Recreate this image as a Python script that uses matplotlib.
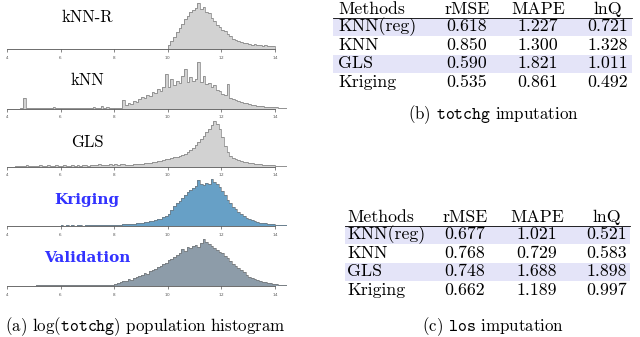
import matplotlib
matplotlib.use("Agg")
import matplotlib.pyplot as plt
import numpy as np
from matplotlib.patches import Rectangle

plt.rcParams['mathtext.fontset'] = 'cm'
plt.rcParams['axes.formatter.use_mathtext'] = True

# histogram bar heights, bins of width 0.1 starting at the given value
bin_w = 0.1
knnr_start = 10.0
knnr = [4, 8, 12, 17, 21, 25, 30, 33, 37, 39, 41, 46, 40, 42, 37, 36, 31, 28, 24, 22,
        19, 18, 15, 13, 10, 9, 8, 7, 6, 6, 5, 4, 5, 4, 4, 3, 4, 3, 3, 3]

knn_start = 4.5
knn = [0.5, 11, 0.5, 0.5, 0.5, 0.5, 0.5, 0.5, 0.5, 0.5, 0.5, 0.5, 2,
       0.5, 0.5, 0.5, 0.5, 0.5, 0.5, 0.5, 0.5, 0.5, 0.5, 0.5, 0.5, 0.5, 0.5,
       2, 0.5, 1, 3, 1, 1.5, 1, 1, 1, 0.5, 1, 9, 4, 6, 5, 8, 7, 10, 12, 11, 14,
       13, 17, 16, 20, 18, 22, 35, 22, 30, 24, 28, 26, 33, 40, 27, 32, 28, 30, 47,
       27, 33, 25, 26, 22, 24, 19, 18, 15, 14, 25, 11, 10, 9, 8, 7, 6, 6, 5, 4, 4,
       3, 3, 3, 2, 2, 2, 2, 1.5, 1, 1, 1, 0.5]

gls_start = 4.3
gls = [0.8, 1, 0.8, 1, 1.2, 0.8, 1, 0.9, 1, 1.1, 0.8, 1, 1.2, 0.9, 1, 1.1, 0.9, 1, 1.2,
       1, 0.9, 1.1, 1, 1.2, 1, 1.1, 1.3, 1, 1.2, 2, 1.5, 2.2, 1.6, 2, 1.8, 2.3, 2, 2.5,
       1.8, 2.6, 2.2, 1.5, 2, 2, 2.5, 2.5, 3, 3, 3.5, 3.2, 4, 4.5, 5, 5.5, 6, 6.5, 7.5,
       8, 8.5, 9.5, 10, 11, 12, 13, 15, 17, 19, 22, 25, 28, 31, 35, 38, 42, 46, 43, 38,
       30, 21, 15, 11, 9, 8, 7, 6, 5, 5, 4, 3.5, 3, 2.5, 2.5, 2, 2, 1.5, 1.5, 1.5, 1, 1,
       1, 1, 0.8]

krig_start = 6.0
krig = [0.6, 0, 0.8, 0.5, 0.7, 0, 0.8, 0.6, 0.5, 0.9, 0.7, 0.6, 0.8, 0.7, 1, 0.6, 0.8,
        0.9, 1, 0.8, 1.2, 1.3, 1.5, 1.6, 1.8, 2, 2.2, 2.4, 2.6, 3, 3.2, 3.8, 4, 4.8, 5.5,
        6, 7, 7.5, 9, 10, 12, 16, 20, 23, 25, 28, 31, 34, 36, 38, 40, 46, 42, 41, 43, 42,
        47, 44, 42, 39, 35, 31, 26, 23, 19, 17, 14, 12, 10, 8.5, 7, 6, 5, 4, 3.5, 3, 2.8,
        2.3, 2, 1.8, 1.5, 1.2, 1, 1, 0.8]

valid_start = 5.1
valid = [0.8, 0.8, 0.7, 0.8, 0.8, 0.9, 0.8, 0.7, 0.8, 0.8, 0.9, 0.8, 0.8, 0.7, 0.8, 0.8,
         0.9, 0.8, 0.8, 0.7, 0.8, 1, 0.9, 1, 1.1, 1, 1.2, 1.2, 1.5, 2.5, 3, 4, 5, 5.5, 7,
         6.5, 8, 9, 10, 11, 13, 12, 15, 16, 17, 19, 20, 22, 23, 26, 27, 29, 31, 33, 37, 35,
         39, 38, 40, 41, 39, 43, 47, 44, 42, 40, 38, 36, 34, 33, 30, 28, 25, 22, 20, 18, 16,
         14, 11, 9, 8, 7, 6, 5, 4.5, 4, 3.5, 3, 2.5, 2, 1.5, 1.2, 1, 0.8]

panel_names = ["kNN-R", "kNN", "GLS", "Kriging", "Validation"]
panel_data = [(knnr_start, knnr), (knn_start, knn), (gls_start, gls),
              (krig_start, krig), (valid_start, valid)]
panel_fill = ["#d2d2d2", "#d2d2d2", "#d2d2d2", "#67a0c6", "#8d9ca9"]
ticks = [4, 6, 8, 10, 12, 14]

# tables
methods = ["KNN(reg)", "KNN", "GLS", "Kriging"]
columns = ["Methods", "rMSE", "MAPE", "lnQ"]
totchg_rmse = [0.618, 0.850, 0.590, 0.535]
totchg_mape = [1.227, 1.300, 1.821, 0.861]
totchg_lnq = [0.721, 1.328, 1.011, 0.492]
los_rmse = [0.677, 0.768, 0.748, 0.662]
los_mape = [1.021, 0.729, 1.688, 1.189]
los_lnq = [0.521, 0.583, 1.898, 0.997]

W, H = 640, 337
fig = plt.figure(figsize=(6.4, 3.37), dpi=100)

# page overlay in pixel coords
pg = fig.add_axes([0, 0, 1, 1])
pg.set_xlim(0, W)
pg.set_ylim(H, 0)
pg.axis("off")

baselines = [49, 108.5, 166.5, 226, 286]
label_y = [17, 80, 142, 200, 258]
x0_px, px_per = 7, 26.8
xmax = 14.45
for i in range(5):
    b = baselines[i]
    ax = fig.add_axes([x0_px / W, 1 - b / H, (xmax - 4) * px_per / W, 50 / H])
    ax.patch.set_alpha(0)
    start, h = panel_data[i]
    edges = start + bin_w * np.arange(len(h) + 1)
    ax.stairs(h, edges, fill=True, color=panel_fill[i], lw=0)
    ax.stairs(h, edges, color="#707070", lw=0.45)
    ax.set_xlim(4, xmax)
    ax.set_ylim(0, 50)
    for s in ["top", "right", "left"]:
        ax.spines[s].set_visible(False)
    ax.spines["bottom"].set_bounds(4, 14)
    ax.spines["bottom"].set_linewidth(0.6)
    ax.spines["bottom"].set_color("#555555")
    ax.set_yticks([])
    ax.set_xticks(ticks)
    ax.tick_params(axis="x", length=2, width=0.5, color="#555555",
                   labelsize=3, pad=1.5, labelcolor="#555555")
    if i < 3:
        pg.text(87, label_y[i], panel_names[i], ha="center", va="center",
                family="cmr10", fontsize=12, color="black")
    else:
        pg.text(87, label_y[i], panel_names[i], ha="center", va="center",
                family="DejaVu Serif", fontweight="bold", fontsize=11,
                color="#3333ff")

pg.text(145, 327, r"(a) log($\mathtt{totchg}$) population histogram",
        ha="center", va="center", family="cmr10", fontsize=12.2)


def draw_table(top, x_left, x_right, name_x, col_x, rmse, mape, lnq, caption, cap_y):
    row_h = 18.5
    fs = 12.8
    pg.text(name_x, top, columns[0], ha="left", va="center", family="cmr10", fontsize=fs)
    for j in range(1, 4):
        pg.text(col_x[j - 1], top, columns[j], ha="center", va="center",
                family="cmr10", fontsize=fs)
    rule = top + 8.5
    pg.plot([x_left, x_right], [rule, rule], color="black", lw=0.6)
    for r in range(4):
        y = rule + row_h * (r + 0.5)
        if r % 2 == 0:
            pg.add_patch(Rectangle((x_left, rule + row_h * r + 0.6), x_right - x_left,
                                   row_h - 0.6, facecolor="#e4e4f8", edgecolor="none"))
        pg.text(name_x, y, methods[r], ha="left", va="center", family="cmr10", fontsize=fs)
        for j, v in enumerate([rmse[r], mape[r], lnq[r]]):
            pg.text(col_x[j], y, f"{v:.3f}", ha="center", va="center",
                    family="cmr10", fontsize=fs)
    pg.text(493, cap_y, caption, ha="center", va="center", family="cmr10", fontsize=12.2)


draw_table(9, 333, 632, 338, [467, 538, 608], totchg_rmse, totchg_mape, totchg_lnq,
           r"(b) $\mathtt{totchg}$ imputation", 115)
draw_table(217, 345, 630, 347, [465, 537, 607], los_rmse, los_mape, los_lnq,
           r"(c) $\mathtt{los}$ imputation", 327)

fig.savefig("out.png", dpi=100)
